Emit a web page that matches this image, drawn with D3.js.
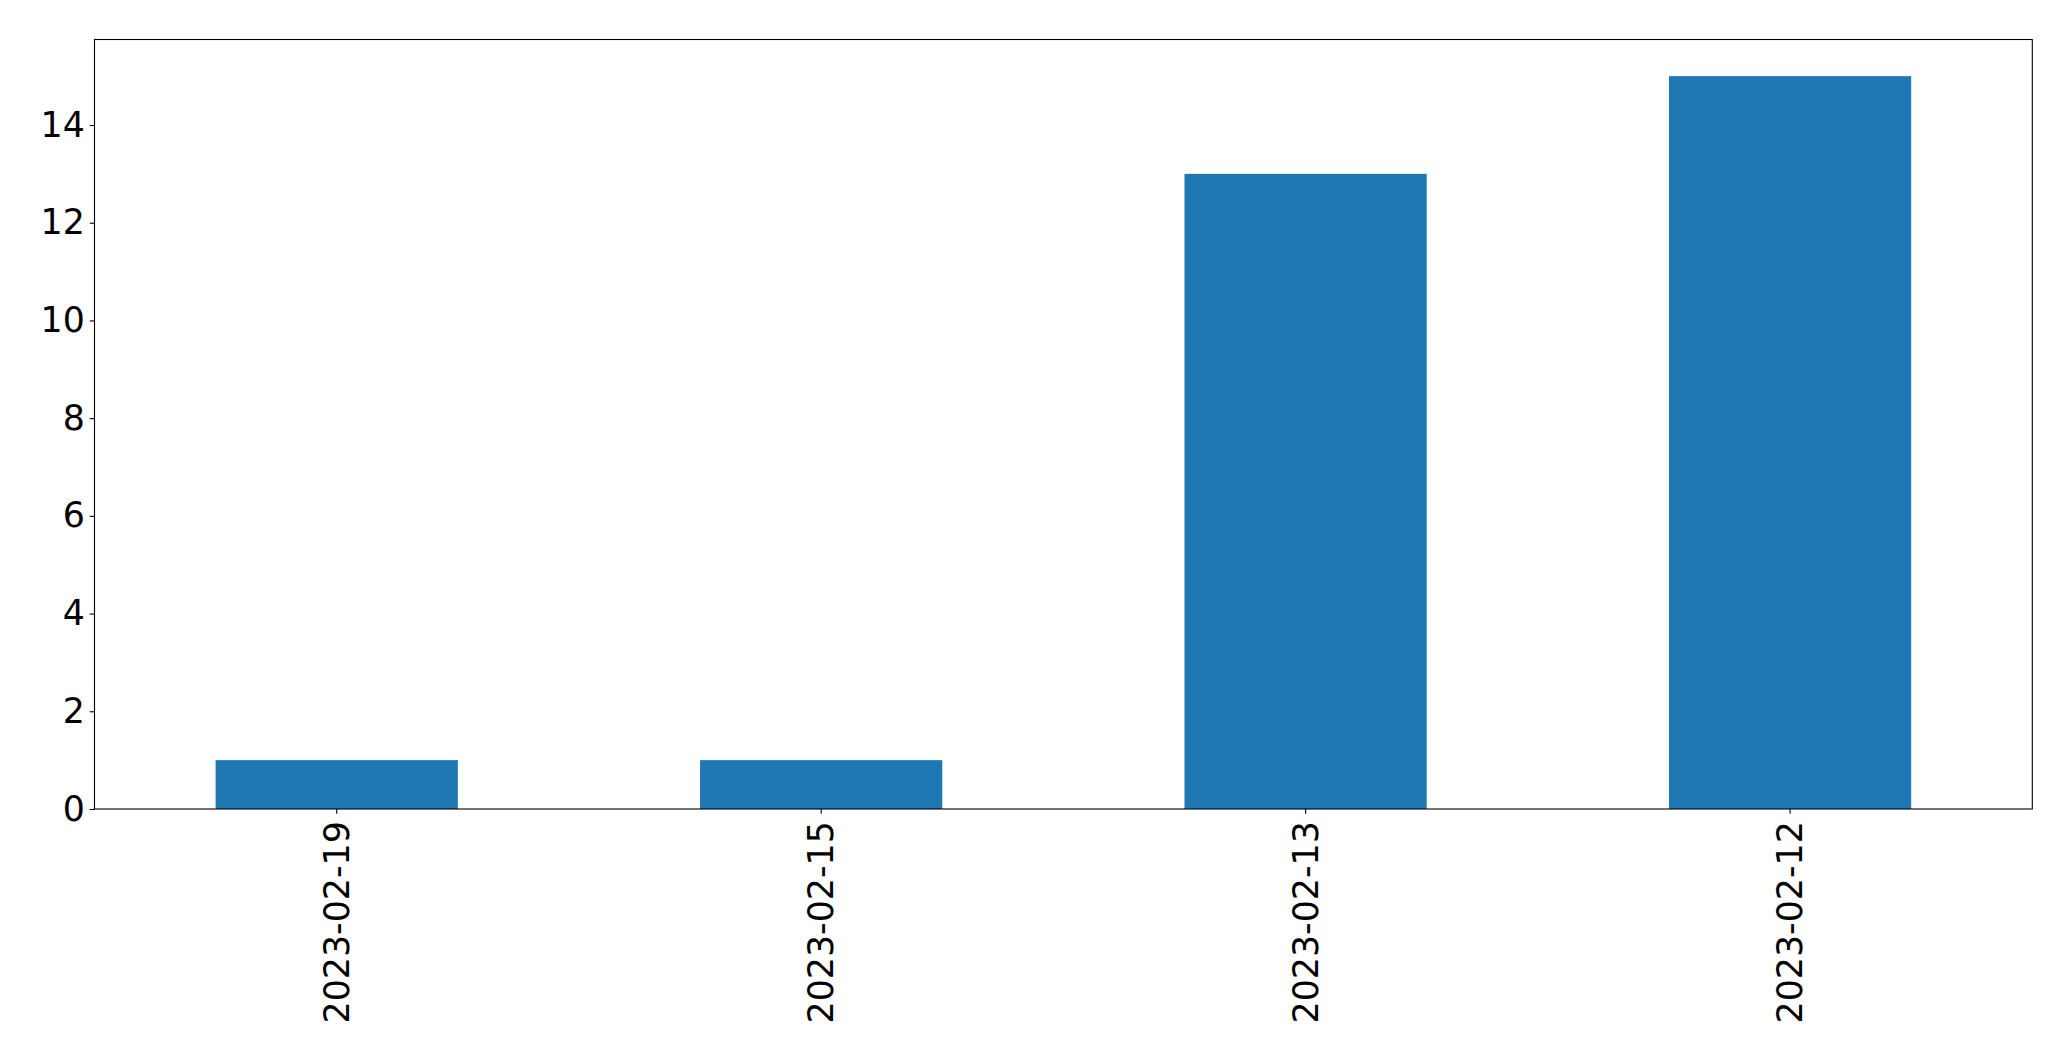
<!DOCTYPE html>
<html>
<head>
<meta charset="utf-8">
<script src="https://cdn.jsdelivr.net/npm/d3@7"></script>
<style>
  html, body { margin: 0; padding: 0; background: #fff; }
  svg { display: block; }
  text { font-family: "DejaVu Sans", sans-serif; fill: #000; }
</style>
</head>
<body>
<svg id="chart" width="2071" height="1061"></svg>
<script>
const categories = ["2023-02-19", "2023-02-15", "2023-02-13", "2023-02-12"];
const values = [1, 1, 13, 15];
const yTicks = [0, 2, 4, 6, 8, 10, 12, 14];

const W = 2071, H = 1061;
const margin = { left: 94.5, right: W - 2032.3, top: 39.5, bottom: H - 809 };
const fontSize = 34.8;
const tickLen = 4.86, tickPad = 4.86;
const barColor = "#1f77b4";

const svg = d3.select("#chart");
svg.append("rect").attr("width", W).attr("height", H).attr("fill", "#fff");

const x = d3.scaleBand()
  .domain(categories)
  .range([margin.left, W - margin.right])
  .paddingInner(0.5)
  .paddingOuter(0.25);

const yMax = d3.max(values) * 1.05;
const y = d3.scaleLinear()
  .domain([0, yMax])
  .range([H - margin.bottom, margin.top]);

// bars
svg.append("g").selectAll("rect")
  .data(categories.map((c, i) => ({ c, v: values[i] })))
  .join("rect")
  .attr("x", d => x(d.c))
  .attr("width", x.bandwidth())
  .attr("y", d => y(d.v))
  .attr("height", d => y(0) - y(d.v))
  .attr("fill", barColor);

// y axis
const yAxis = d3.axisLeft(y).tickValues(yTicks).tickSize(tickLen).tickPadding(tickPad).tickFormat(d3.format("d"));
const gy = svg.append("g").attr("transform", `translate(${margin.left},0)`).call(yAxis);
gy.select(".domain").remove();
gy.selectAll(".tick line").attr("stroke", "#000").attr("stroke-width", 1.1);
gy.selectAll(".tick text").attr("font-size", fontSize).attr("font-family", "DejaVu Sans").attr("fill", "#000");

// x axis
const xAxis = d3.axisBottom(x).tickSize(tickLen).tickPadding(tickPad);
const gx = svg.append("g").attr("transform", `translate(0,${H - margin.bottom})`).call(xAxis);
gx.select(".domain").remove();
gx.selectAll(".tick line").attr("stroke", "#000").attr("stroke-width", 1.1);
gx.selectAll(".tick text")
  .attr("font-size", fontSize)
  .attr("font-family", "DejaVu Sans")
  .attr("fill", "#000")
  .attr("text-anchor", "end")
  .attr("transform", `rotate(-90)`)
  .attr("x", -(tickLen + tickPad + 2.5))
  .attr("y", 0)
  .attr("dy", "0.35em");

// frame
svg.append("rect")
  .attr("x", margin.left)
  .attr("y", margin.top)
  .attr("width", W - margin.right - margin.left)
  .attr("height", H - margin.bottom - margin.top)
  .attr("fill", "none")
  .attr("stroke", "#000")
  .attr("stroke-width", 1.1);
</script>
</body>
</html>
